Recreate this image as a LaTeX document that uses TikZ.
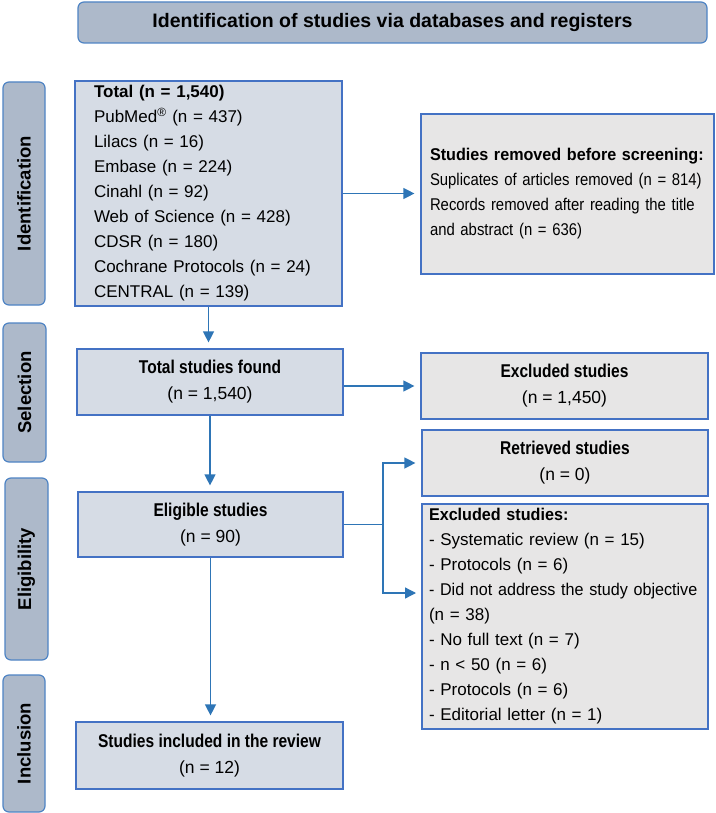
\documentclass[tikz,border=0pt]{standalone}
\usepackage{fontspec}
\setmainfont{Liberation Sans}
\newfontfamily\hfont{Liberation Sans}
\newfontfamily\nfont{Liberation Sans}[FakeStretch=0.875]
\newfontfamily\dfont{Liberation Sans}[FakeStretch=0.95]
\newfontfamily\cfont{Liberation Sans}[FakeStretch=0.84]
\usetikzlibrary{arrows.meta}
\definecolor{hdrfill}{HTML}{ADB9CA}
\definecolor{hdrline}{HTML}{4F84C4}
\definecolor{lboxfill}{HTML}{D6DCE5}
\definecolor{rboxfill}{HTML}{E7E6E6}
\definecolor{boxline}{HTML}{4472C4}
\definecolor{arrcol}{HTML}{2E75B6}
\tikzset{
  x=1pt,y=-1pt,
  hdrbox/.style={draw=hdrline,fill=hdrfill,line width=1.2pt,rounded corners=6pt,
    font=\hfont\bfseries\fontsize{19.5}{22}\selectfont,inner sep=0pt},
  sidebox/.style={draw=hdrline,fill=hdrfill,line width=1.2pt,rounded corners=6pt,
    rotate=90,font=\hfont\bfseries\fontsize{18.5}{22}\selectfont,inner sep=0pt},
  lbox/.style={draw=boxline,fill=lboxfill,line width=1.2pt,inner sep=0pt,
    font=\fontsize{17.5}{26}\selectfont,align=center},
  rbox/.style={draw=boxline,fill=rboxfill,line width=1.2pt,inner sep=0pt,
    font=\fontsize{17.5}{26}\selectfont,align=center},
  listbox/.style={inner xsep=#1,inner ysep=0pt,align=left,font=\fontsize{17}{25}\selectfont},
  conn/.style={draw=arrcol,line width=1.3pt},
  arr/.style={conn,-{Triangle[length=11pt,width=11pt]},shorten >=6pt},
}
\newcommand{\chd}[1]{{\cfont\bfseries\fontsize{18.5}{26}\selectfont #1}}
\begin{document}
\begin{tikzpicture}
\useasboundingbox (0,0) rectangle (715,813);
\fill[white] (0,0) rectangle (715,813);

% header
\node[hdrbox,minimum width=629pt,minimum height=41pt] (hdr) at (392.5,22.5)
  {Identification of studies via databases and registers};

% side labels
\node[sidebox,minimum width=223pt,minimum height=42pt] (lid) at (24,193.5) {Identification};
\node[sidebox,minimum width=139pt,minimum height=43pt] (lsel) at (24.5,392.5) {Selection};
\node[sidebox,minimum width=182pt,minimum height=43pt] (lelig) at (26.5,569) {Eligibility};
\node[sidebox,minimum width=137pt,minimum height=42pt] (linc) at (24,743.5) {Inclusion};

% left column
\node[lbox,listbox=19pt,minimum width=267pt,minimum height=225pt,text width=229pt] (total) at (208.5,193.5)
  {\textbf{Total (n = 1,540)}\\
   PubMed\textsuperscript{®} (n = 437)\\
   Lilacs (n = 16)\\
   Embase (n = 224)\\
   Cinahl (n = 92)\\
   Web of Science (n = 428)\\
   CDSR (n = 180)\\
   Cochrane Protocols (n = 24)\\
   CENTRAL (n = 139)};

\node[lbox,minimum width=266pt,minimum height=66pt] (found) at (210,382)
  {\chd{Total studies found}\\(n = 1,540)};
\node[lbox,minimum width=265pt,minimum height=65pt] (elig) at (210.5,524.5)
  {\chd{Eligible studies}\\(n = 90)};
\node[lbox,minimum width=267pt,minimum height=67pt] (incl) at (209.5,755.5)
  {\chd{Studies included in the review}\\(n = 12)};

% right column
\node[rbox,listbox=9pt,minimum width=293pt,minimum height=160pt,text width=275pt] (removed) at (567.5,194)
  {{\dfont\textbf{Studies removed before screening:}}\\
   {\nfont\mbox{Suplicates of articles removed (n = 814)}}\\
   {\nfont\makebox[\linewidth][s]{Records removed after reading the title}}\\
   {\nfont and abstract (n = 636)}};
\node[rbox,minimum width=287pt,minimum height=66pt] (excl1) at (564.5,386)
  {\chd{Excluded studies}\\(n = 1,450)};
\node[rbox,minimum width=286pt,minimum height=66pt] (retr) at (565,463)
  {\chd{Retrieved studies}\\(n = 0)};
\node[rbox,listbox=7pt,minimum width=286pt,minimum height=225pt,text width=272pt] (excl2) at (565,616.5)
  {{\dfont\textbf{Excluded studies:}}\\
   - Systematic review (n = 15)\\
   - Protocols (n = 6)\\
   {\dfont\mbox{- Did not address the study objective}}\\
   (n = 38)\\
   - No full text (n = 7)\\
   - n < 50 (n = 6)\\
   - Protocols (n = 6)\\
   - Editorial letter (n = 1)};

% connectors
\draw[arr] (total.south) -- (total.south |- found.north);
\draw[arr] (total.east) -- (total.east -| removed.west);
\draw[arr] (found.south) -- (found.south |- elig.north);
\draw[arr] (excl1.west -| found.east) -- (excl1.west);
\draw[arr] (elig.south) -- (elig.south |- incl.north);
\coordinate (jn) at (383,524.5);
\coordinate (exin) at (422,593);
\draw[conn] (elig.east) -- (jn);
\draw[arr] (jn) |- (retr.west);
\draw[arr] (jn) |- (exin);
\end{tikzpicture}
\end{document}
